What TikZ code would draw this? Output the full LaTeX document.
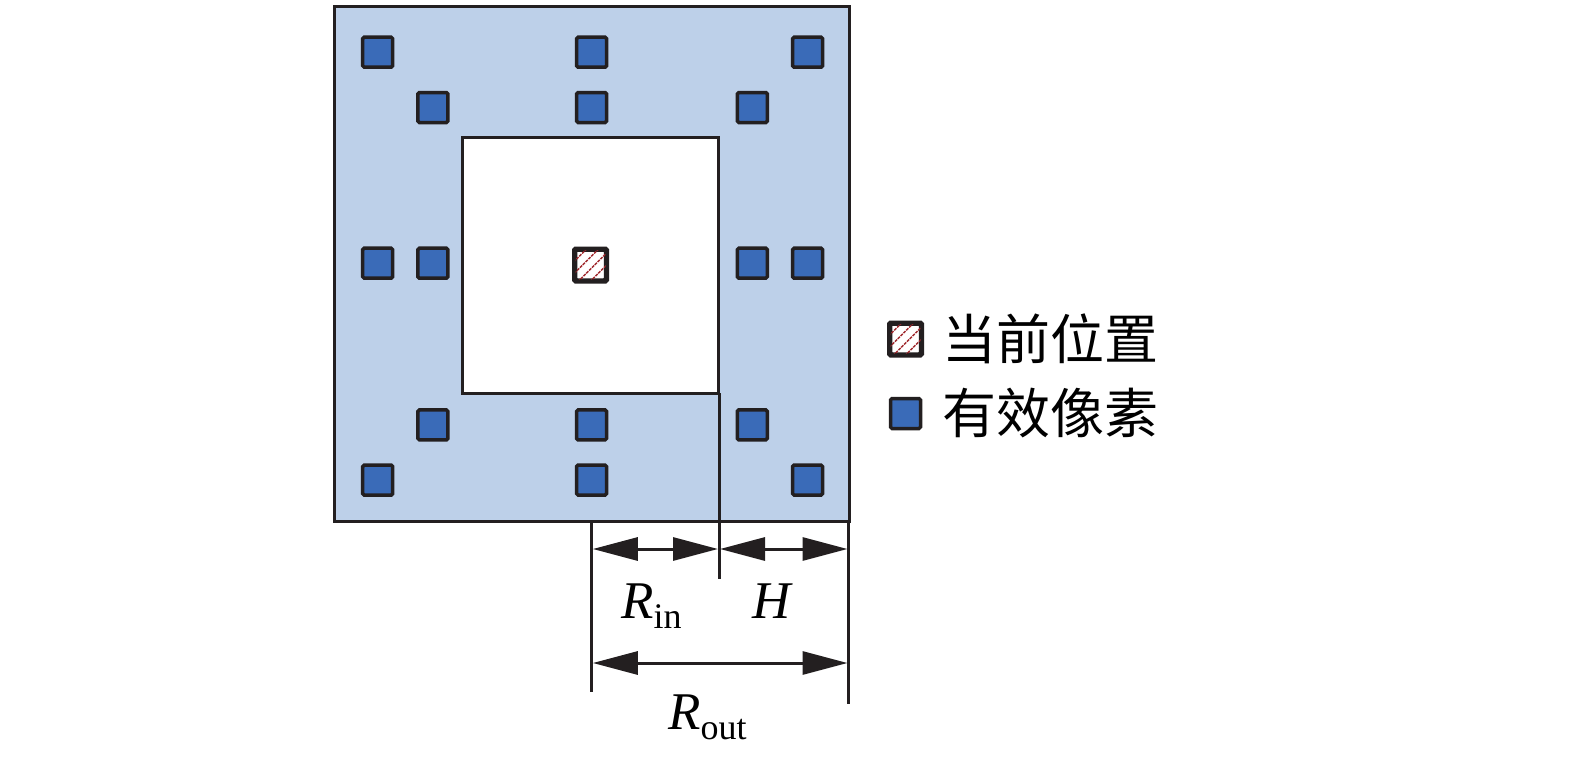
\documentclass[tikz,border=0pt]{standalone}
\usepackage{fontspec}
\setmainfont{Liberation Serif}
\newfontfamily\cjk{Noto Sans CJK SC}
\usetikzlibrary{arrows.meta}
\definecolor{lightbg}{RGB}{189,208,233}
\definecolor{pixblue}{RGB}{58,107,184}
\definecolor{edge}{RGB}{35,31,32}
\definecolor{hatchred}{RGB}{160,40,45}
\tikzset{
  pix/.style={draw=edge, fill=pixblue, line width=3.5pt, minimum size=30pt, inner sep=0pt, rounded corners=1.5pt},
  curpix/.style={draw=edge, fill=white, line width=3.5pt, minimum size=30pt, inner sep=0pt, rounded corners=1.5pt},
  dimline/.style={draw=edge, line width=3pt},
  dimarrow/.style={draw=edge, line width=3pt, {Triangle[length=45pt,width=23pt]}-{Triangle[length=45pt,width=23pt]}, shorten <=1pt, shorten >=1pt},
  lbl/.style={font=\fontsize{53}{60}\selectfont, inner sep=0pt},
  leg/.style={font=\cjk\fontsize{54}{60}\selectfont, inner sep=0pt, anchor=west}
}
\newcommand{\hatchin}[1]{%
  \begin{scope}
    \clip (#1.south west) rectangle (#1.north east);
    \foreach \d in {-20,-8,4,16}{
      \draw[hatchred, line width=1.4pt, dash pattern=on 3pt off 1pt] ([xshift=\d pt]#1.south west) -- ++(40pt,40pt);
    }
  \end{scope}
  \draw[edge, line width=3.5pt, rounded corners=1.5pt] (#1.south west) rectangle (#1.north east);
}
\begin{document}
\begin{tikzpicture}[x=1pt,y=-1pt]
\useasboundingbox (0,0) rectangle (1575,756);
% outer and inner squares
\node[draw=edge, fill=lightbg, line width=3pt, minimum size=515pt, inner sep=0pt] (outer) at (591.5,264) {};
\node[draw=edge, fill=white, line width=3pt, minimum size=256pt, inner sep=0pt] (inner) at (590.5,265) {};
% pixels
\foreach \n/\x/\y in {a/377.7/52.2, b/591.6/52.2, c/807.6/52.2,
                      d/432.9/107.5, e/591.6/107.5, f/752.3/107.5,
                      g/377.7/263.2, h/432.9/263.2, i/752.3/263.2, j/807.6/263.2,
                      k/432.9/424.9, l/591.6/424.9, m/752.3/424.9,
                      n/377.7/480.1, o/591.6/480.1, p/807.6/480.1}{
  \node[pix] (\n) at (\x,\y) {};
}
\node[curpix] (cur) at (590.5,265) {};
\hatchin{cur}
% dimension lines
\coordinate (l1) at (591.8,521);
\coordinate (l2) at (591.8,692);
\coordinate (m1) at (719,393);
\coordinate (m2) at (719,579);
\coordinate (r1) at (848.5,521);
\coordinate (r2) at (848.5,704);
\draw[dimline] (l1) -- (l2);
\draw[dimline] (m1) -- (m2);
\draw[dimline] (r1) -- (r2);
\coordinate (a1) at (591.8,549);
\coordinate (a2) at (719,549);
\coordinate (a3) at (848.5,549);
\coordinate (b1) at (591.8,663);
\coordinate (b2) at (848.5,663);
\draw[dimarrow] (a1) -- (a2);
\draw[dimarrow] (a2) -- (a3);
\draw[dimarrow] (b1) -- (b2);
% labels
\node[lbl, anchor=base west] (rin) at (621,618) {\textit{R}\raisebox{-10pt}{\fontsize{36}{36}\selectfont in}};
\node[lbl, anchor=base west] (hh) at (752,618) {\textit{H}};
\node[lbl, anchor=base west] (rout) at (668,729) {\textit{R}\raisebox{-10pt}{\fontsize{36}{36}\selectfont out}};
% legend
\node[curpix] (legcur) at (905.5,339) {};
\hatchin{legcur}
\node[pix] (legpix) at (905.5,413.5) {};
\node[leg] (t1) at (942,339) {当前位置};
\node[leg] (t2) at (942,413) {有效像素};
\end{tikzpicture}
\end{document}
